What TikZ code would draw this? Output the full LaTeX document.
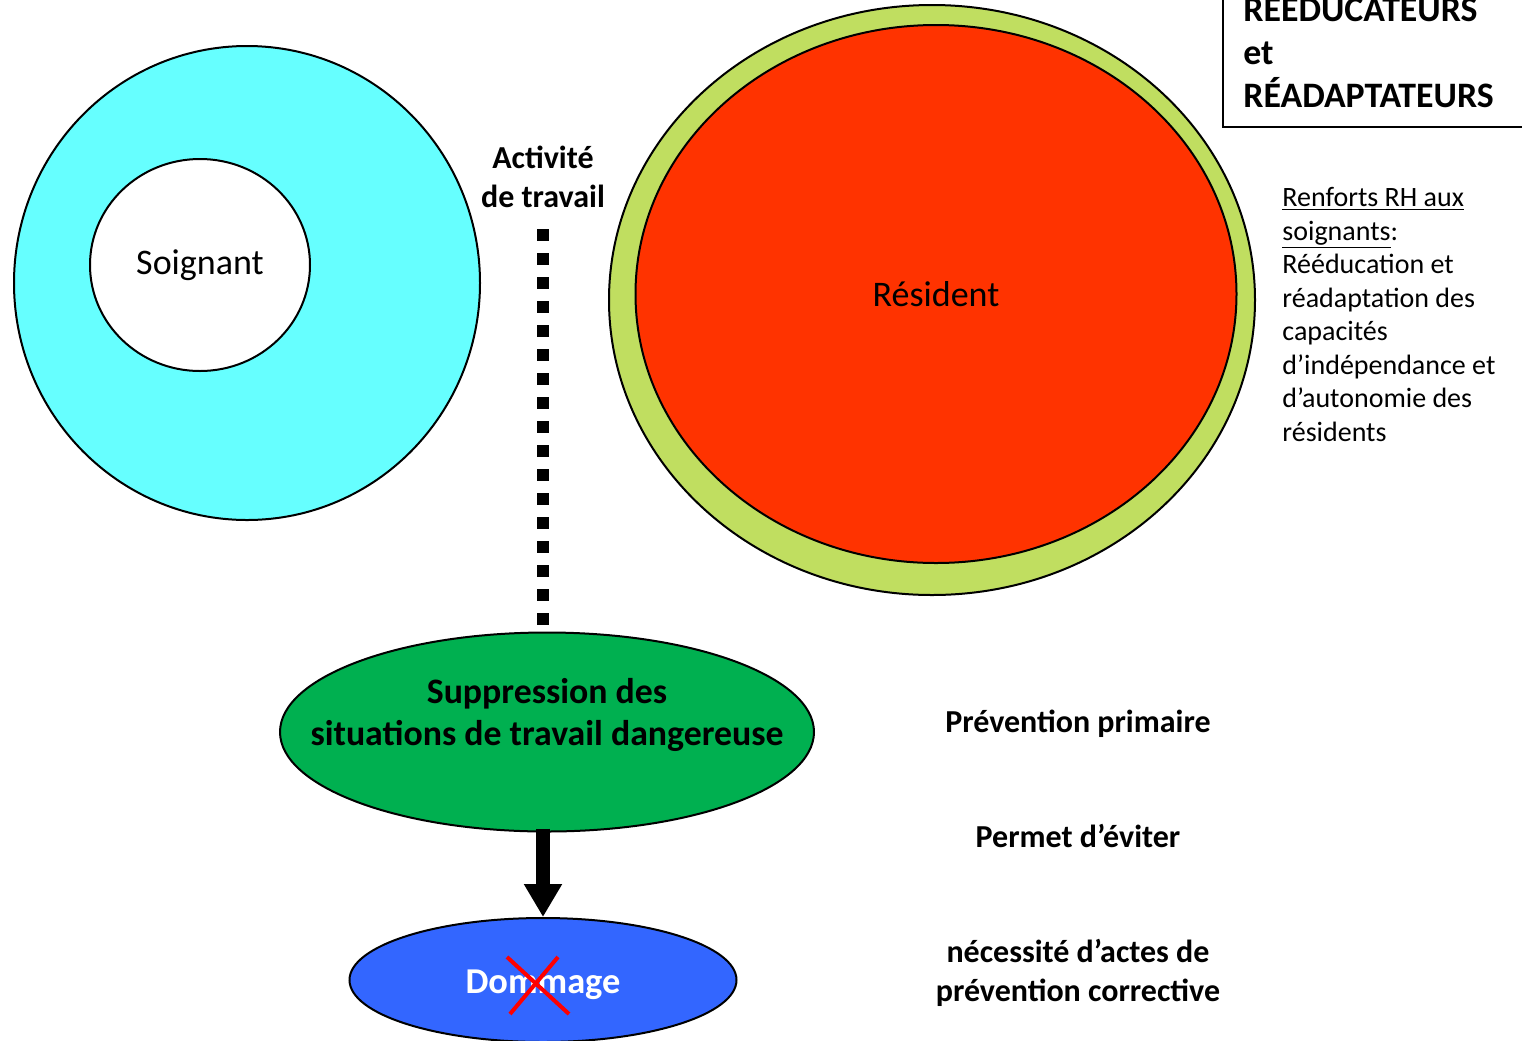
\documentclass[tikz,border=0pt]{standalone}
\usepackage{fontspec}
\setmainfont{Carlito}
\usetikzlibrary{arrows.meta,shapes.geometric}
\definecolor{cyanfill}{RGB}{102,255,255}
\definecolor{limefill}{RGB}{192,222,96}
\definecolor{redfill}{RGB}{255,51,0}
\definecolor{greenfill}{RGB}{0,176,80}
\definecolor{bluefill}{RGB}{51,102,255}
\tikzset{
  blob/.style={ellipse, draw=black, line width=1pt, inner sep=0pt},
  plain/.style={font=\fontsize{18}{21.6}\selectfont},
  boldlabel/.style={font=\bfseries\fontsize{16}{19.5}\selectfont, align=center, inner sep=0pt},
  note/.style={font=\fontsize{14}{16.75}\selectfont, align=left, inner sep=0pt},
}
\begin{document}
\begin{tikzpicture}[x=0.5pt,y=-0.5pt]
\useasboundingbox (0,0) rectangle (1522,1040);
\clip (0,0) rectangle (1522,1040);

% left: care giver circles
\node[blob, fill=cyanfill, minimum width=233pt, minimum height=237pt] (outer) at (247,283) {};
\node[blob, fill=white, minimum width=110pt, minimum height=106pt, plain] (soignant) at (200,265) {Soignant};

% right: resident surrounded by rehabilitation staff
\node[blob, fill=limefill, minimum width=323pt, minimum height=295pt] (ring) at (932,300) {};
\node[blob, fill=redfill, minimum width=300.5pt, minimum height=269pt, plain] (resident) at (936,294) {Résident};

% framed header, top right
\draw[line width=1pt] (1223,-20) -- (1223,127) -- (1540,127);
\node[font=\bfseries\fontsize{17.9}{21.5}\selectfont, align=left, anchor=west, inner sep=0pt] (staff) at (1243,50)
  {RÉÉDUCATEURS\\et\\RÉADAPTATEURS};

% side note
\node[note, anchor=north west] (renforts) at (1282,187)
  {\underline{Renforts RH aux}\\\underline{soignants}:\\Rééducation et\\réadaptation des\\capacités\\d’indépendance et\\d’autonomie des\\résidents};

% work activity link
\node[boldlabel] (activite) at (543,177) {Activité\\de travail};
\coordinate (dottop) at (543,229);

% prevention chain
\node[blob, fill=greenfill, minimum width=267pt, minimum height=99.5pt] (suppression) at (547,732) {};
\node[font=\bfseries\fontsize{17.9}{21}\selectfont, align=center, inner sep=0pt] (suppressiontext) at (547,715)
  {Suppression des\\situations de travail dangereuse};
\node[blob, fill=bluefill, minimum width=193.5pt, minimum height=62pt] (dommage) at (543,980) {};
\node[font=\bfseries\fontsize{18.2}{20}\selectfont, text=white, inner sep=0pt] (dommagetext) at (543,985) {Dommage};

\draw[line width=6pt, dash pattern=on 6pt off 6pt] (dottop) -- (dottop |- suppression.north);
\draw[line width=7pt, -{Triangle[width=18pt,length=16.5pt]}, shorten <=-2pt] (suppression.south -| 543,0) -- (dommage.north);

% cross-out
\draw[red, line width=2pt] (507,957) -- (569,1014);
\draw[red, line width=2pt] (558,957) -- (510,1014);

% right column captions
\node[boldlabel] (primaire) at (1078,724) {Prévention primaire};
\node[boldlabel] (eviter) at (1078,836) {Permet d’éviter};
\node[boldlabel] (corrective) at (1078,973) {nécessité d’actes de\\prévention corrective};
\end{tikzpicture}
\end{document}
